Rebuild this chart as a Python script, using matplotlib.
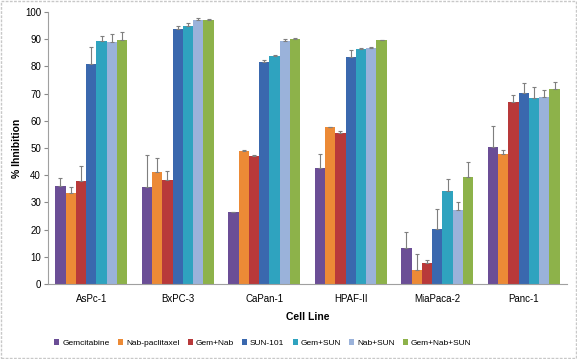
import matplotlib
matplotlib.use("Agg")
import matplotlib.pyplot as plt
import numpy as np
from matplotlib.patches import Rectangle

cell_lines = ["AsPc-1", "BxPC-3", "CaPan-1", "HPAF-II", "MiaPaca-2", "Panc-1"]
treatments = ["Gemcitabine", "Nab-paclitaxel", "Gem+Nab", "SUN-101", "Gem+SUN", "Nab+SUN", "Gem+Nab+SUN"]

gemcitabine = [36.0, 35.6, 26.3, 42.5, 13.4, 50.5]
nab_paclitaxel = [33.3, 41.2, 49.0, 57.6, 5.1, 47.8]
gem_nab = [38.0, 38.3, 47.0, 55.5, 7.8, 67.0]
sun_101 = [80.8, 93.7, 81.8, 83.5, 20.1, 70.1]
gem_sun = [89.3, 94.8, 84.0, 86.5, 34.3, 68.5]
nab_sun = [89.0, 97.2, 89.2, 86.8, 27.3, 68.8]
gem_nab_sun = [89.8, 97.2, 90.0, 89.6, 39.5, 71.8]

err_gemcitabine = [3.0, 11.9, 0.3, 5.2, 5.6, 7.7]
err_nab_paclitaxel = [2.2, 5.3, 0.2, 0.2, 6.1, 1.6]
err_gem_nab = [5.5, 3.2, 0.5, 0.6, 0.9, 2.5]
err_sun_101 = [6.2, 1.0, 0.4, 2.5, 7.5, 3.9]
err_gem_sun = [1.7, 1.2, 0.3, 0.3, 4.2, 4.0]
err_nab_sun = [3.0, 0.5, 0.8, 0.2, 3.0, 2.5]
err_gem_nab_sun = [2.7, 0.3, 0.5, 0.2, 5.5, 2.6]

values = [gemcitabine, nab_paclitaxel, gem_nab, sun_101, gem_sun, nab_sun, gem_nab_sun]
errors = [err_gemcitabine, err_nab_paclitaxel, err_gem_nab, err_sun_101, err_gem_sun, err_nab_sun, err_gem_nab_sun]
colors = ["#6B4E96", "#EC8A36", "#B8393A", "#3A68AE", "#2FA3BF", "#9AB2DA", "#8DB24A"]

plt.rcParams['font.family'] = ['Liberation Sans', 'DejaVu Sans']

fig = plt.figure(figsize=(5.77, 3.59), dpi=100)
ax = fig.add_axes([48/577, 75/359, 519/577, 272/359])

x = np.arange(len(cell_lines))
n = len(treatments)
w = 0.119
for i, (vals, errs, c, lab) in enumerate(zip(values, errors, colors, treatments)):
    pos = x + (i - (n - 1) / 2) * w
    ax.bar(pos, vals, w, color=c, label=lab, edgecolor='none')
    ax.errorbar(pos, vals, yerr=[np.zeros(len(errs)), errs], fmt='none',
                ecolor='#7f7f7f', elinewidth=0.8, capsize=1.5, capthick=0.8)

ax.set_xlim(-0.5, len(cell_lines) - 0.5)
ax.set_ylim(0, 100)
ax.set_yticks(range(0, 101, 10))
ax.set_xticks(x)
ax.set_xticklabels(cell_lines, fontsize=7)
ax.tick_params(axis='y', labelsize=7, length=3, color='#8a8a8a', pad=2)
ax.tick_params(axis='x', length=0, pad=7)
for s in ['top', 'right']:
    ax.spines[s].set_visible(False)
for s in ['left', 'bottom']:
    ax.spines[s].set_color('#a0a0a0')
    ax.spines[s].set_linewidth(0.8)

ax.set_ylabel("% Ihnibition", fontsize=7.5, fontweight='bold', labelpad=2)
ax.set_xlabel("Cell Line", fontsize=7.5, fontweight='bold', labelpad=6)

fig.legend(loc='center', bbox_to_anchor=(263/577, 16/359), ncol=7, fontsize=6,
           frameon=False, handlelength=0.6, handleheight=0.6, handletextpad=0.35,
           columnspacing=1.0)

fig.patches.append(Rectangle((0.002, 0.003), 0.996, 0.994, transform=fig.transFigure,
                             fill=False, edgecolor='#c8c8c8', linewidth=1.0, linestyle=(0, (2, 1))))

fig.savefig("out.png", dpi=100)
